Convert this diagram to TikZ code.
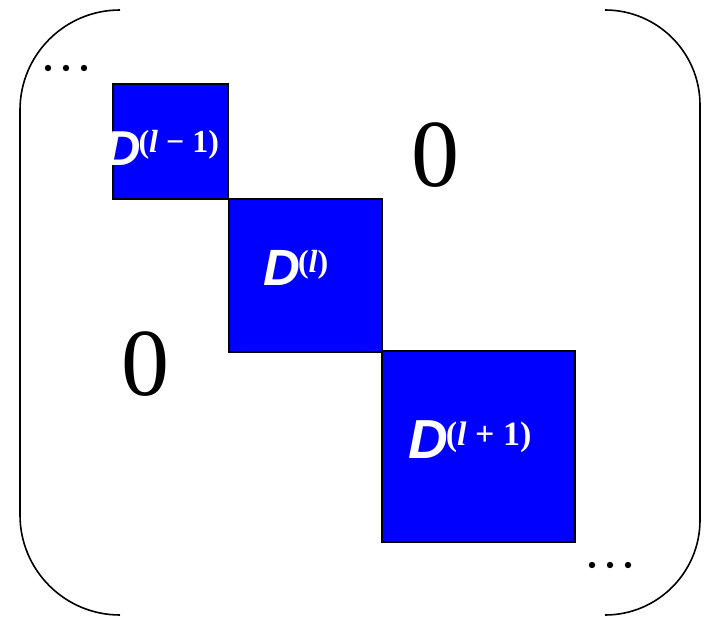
\documentclass[tikz,border=0pt]{standalone}
\usepackage{fontspec}
\setmainfont{Liberation Serif}
\newfontfamily\dfont{Liberation Sans}
\usetikzlibrary{positioning}
\newcommand{\blocklabel}[3]{{\dfont\bfseries\itshape\fontsize{#1}{#1}\selectfont D}\kern-2pt{\fontsize{#2}{#2}\selectfont\bfseries\raisebox{13pt}{(\textit{l}#3)}}}
\begin{document}
\begin{tikzpicture}[
  x=1pt, y=-1pt,
  blockbox/.style={draw, fill=blue, line width=1.8pt, inner sep=0pt, anchor=north west},
  blocktext/.style={text=white, inner sep=0pt, anchor=base west},
  zerotext/.style={font=\fontsize{96}{96}\selectfont, inner sep=0pt},
  bracket/.style={line width=1.6pt}
]
\useasboundingbox (0,0) rectangle (717,617);
% delimiters
\draw[bracket, rounded corners=100] (120,10) -- (20,10) -- (20,615) -- (120,615);
\draw[bracket, rounded corners=95] (605,10) -- (700,10) -- (700,615) -- (605,615);
% dots
\foreach \x in {48,66,84} \fill (\x,68) circle (3.2);
\foreach \x in {592,610,628} \fill (\x,565) circle (3.2);
% blocks
\node[blockbox, minimum width=115, minimum height=115] (prevblock) at (112,83) {};
\node[blockbox, minimum width=153, minimum height=153] (curblock) at (228,198) {};
\node[blockbox, minimum width=193, minimum height=191] (nextblock) at (381,350) {};
\node[blocktext] (prevlabel) at (105,166) {\blocklabel{49}{32}{ \textminus{} 1}};
\node[blocktext] (curlabel) at (263,286) {\blocklabel{51}{32}{}};
\node[blocktext] (nextlabel) at (408,458) {\blocklabel{55}{34}{ + 1}};
% zero entries
\node[zerotext] (zeroupper) at (435,155) {0};
\node[zerotext] (zerolower) at (145,364) {0};
\end{tikzpicture}
\end{document}
